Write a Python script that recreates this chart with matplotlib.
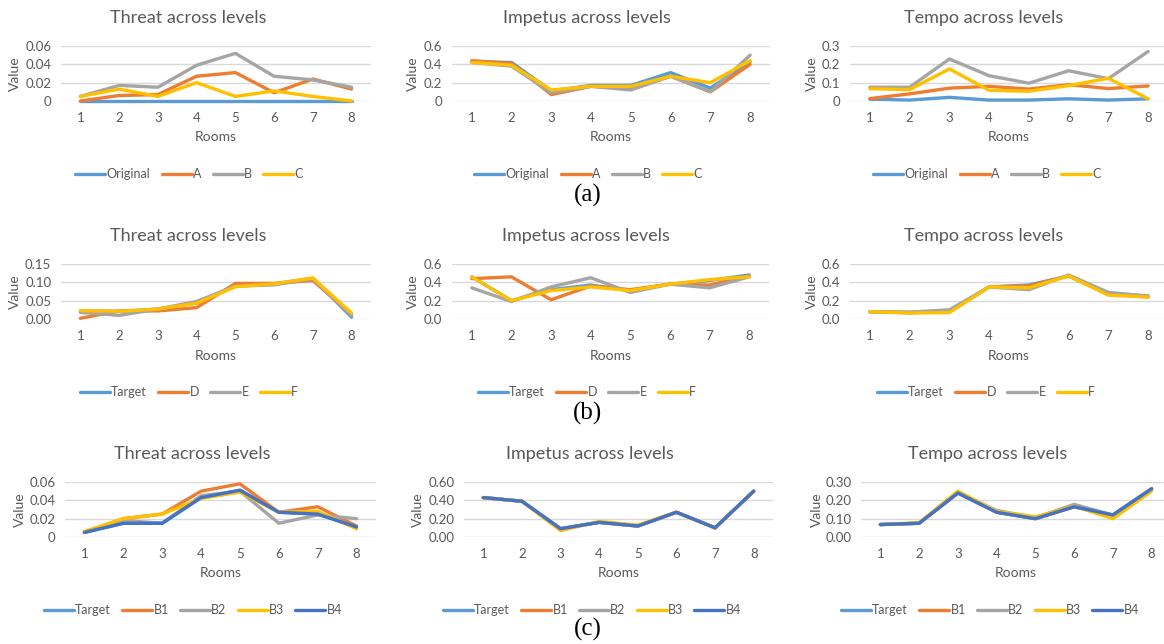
import matplotlib
matplotlib.use("Agg")
import matplotlib.pyplot as plt
from matplotlib.ticker import FixedLocator, FixedFormatter

plt.rcParams['font.family'] = ['Lato', 'DejaVu Sans']

rooms = [1, 2, 3, 4, 5, 6, 7, 8]

# row (a): original level vs variants A, B, C
a_names = ["Original", "A", "B", "C"]
a_threat = [
    [0, 0, 0, 0, 0, 0, 0, 0],
    [0.000, 0.006, 0.007, 0.027, 0.031, 0.009, 0.024, 0.013],
    [0.005, 0.017, 0.015, 0.039, 0.052, 0.027, 0.023, 0.015],
    [0.005, 0.013, 0.005, 0.020, 0.005, 0.011, 0.005, 0.000],
]
a_impetus = [
    [0.43, 0.42, 0.11, 0.17, 0.17, 0.31, 0.14, 0.43],
    [0.44, 0.41, 0.07, 0.16, 0.14, 0.27, 0.10, 0.40],
    [0.42, 0.38, 0.09, 0.16, 0.12, 0.27, 0.10, 0.50],
    [0.42, 0.39, 0.12, 0.16, 0.16, 0.27, 0.20, 0.44],
]
a_tempo = [
    [0.010, 0.005, 0.020, 0.005, 0.005, 0.012, 0.005, 0.012],
    [0.013, 0.039, 0.070, 0.080, 0.065, 0.089, 0.068, 0.082],
    [0.075, 0.075, 0.229, 0.138, 0.097, 0.165, 0.122, 0.270],
    [0.067, 0.062, 0.175, 0.058, 0.053, 0.084, 0.124, 0.012],
]

# row (b): target vs D, E, F
b_names = ["Target", "D", "E", "F"]
b_threat = [
    [0.022, 0.021, 0.027, 0.044, 0.089, 0.096, 0.111, 0.005],
    [0.002, 0.022, 0.022, 0.031, 0.097, 0.097, 0.105, 0.012],
    [0.018, 0.010, 0.027, 0.048, 0.090, 0.093, 0.110, 0.010],
    [0.023, 0.021, 0.027, 0.043, 0.088, 0.096, 0.112, 0.016],
]
b_impetus = [
    [0.46, 0.20, 0.32, 0.37, 0.31, 0.38, 0.42, 0.48],
    [0.44, 0.46, 0.21, 0.36, 0.32, 0.38, 0.37, 0.47],
    [0.34, 0.19, 0.35, 0.45, 0.29, 0.38, 0.34, 0.46],
    [0.46, 0.20, 0.31, 0.35, 0.31, 0.38, 0.43, 0.46],
]
b_tempo = [
    [0.08, 0.07, 0.08, 0.35, 0.37, 0.47, 0.28, 0.25],
    [0.08, 0.07, 0.08, 0.35, 0.36, 0.47, 0.27, 0.24],
    [0.075, 0.075, 0.10, 0.35, 0.32, 0.48, 0.29, 0.25],
    [0.08, 0.065, 0.07, 0.35, 0.34, 0.47, 0.26, 0.24],
]

# row (c): target vs B1..B4
c_names = ["Target", "B1", "B2", "B3", "B4"]
c_threat = [
    [0.005, 0.015, 0.015, 0.043, 0.051, 0.027, 0.025, 0.011],
    [0.005, 0.020, 0.025, 0.050, 0.058, 0.027, 0.033, 0.012],
    [0.005, 0.018, 0.015, 0.045, 0.050, 0.015, 0.024, 0.020],
    [0.006, 0.020, 0.025, 0.042, 0.049, 0.027, 0.028, 0.009],
    [0.005, 0.015, 0.015, 0.043, 0.051, 0.027, 0.025, 0.011],
]
c_impetus = [
    [0.43, 0.39, 0.09, 0.16, 0.12, 0.27, 0.10, 0.50],
    [0.43, 0.39, 0.09, 0.16, 0.12, 0.27, 0.10, 0.50],
    [0.43, 0.39, 0.09, 0.16, 0.12, 0.27, 0.10, 0.50],
    [0.43, 0.39, 0.07, 0.17, 0.13, 0.27, 0.10, 0.50],
    [0.43, 0.39, 0.09, 0.16, 0.12, 0.27, 0.10, 0.50],
]
c_tempo = [
    [0.068, 0.075, 0.240, 0.135, 0.100, 0.165, 0.120, 0.263],
    [0.068, 0.075, 0.240, 0.135, 0.100, 0.165, 0.120, 0.263],
    [0.068, 0.075, 0.240, 0.145, 0.105, 0.178, 0.120, 0.263],
    [0.068, 0.078, 0.250, 0.140, 0.110, 0.168, 0.100, 0.250],
    [0.068, 0.075, 0.240, 0.135, 0.100, 0.165, 0.120, 0.263],
]

colors = ["#5B9BD5", "#ED7D31", "#A5A5A5", "#FFC000", "#4472C4"]
txt = "#595959"
grid = "#D9D9D9"

W, H = 1164, 644
fig = plt.figure(figsize=(W / 100, H / 100), dpi=100)


def px(x, y):
    return x / W, 1 - y / H


# each panel: data, names, title, ticks, tick labels, plot box (left, right, top, bottom px),
# title x, legend x, "Value" x, title y, legend y, rooms y
panels = [
    (a_threat, a_names, "Threat across levels", [0, 0.02, 0.04, 0.06], ["0", "0.02", "0.04", "0.06"],
     (61, 371, 46, 101), 188, 189, 15, 18, 174, 137),
    (a_impetus, a_names, "Impetus across levels", [0, 0.2, 0.4, 0.6], ["0", "0.2", "0.4", "0.6"],
     (452, 770, 46, 101), 587, 588, 413, 18, 174, 137),
    (a_tempo, a_names, "Tempo across levels", [0, 0.1, 0.2, 0.3], ["0", "0.1", "0.2", "0.3"],
     (850, 1168, 46, 101), 984, 987, 812, 18, 174, 137),
    (b_threat, b_names, "Threat across levels", [0, 0.05, 0.10, 0.15], ["0.00", "0.05", "0.10", "0.15"],
     (61, 371, 264, 319), 188, 189, 15, 236, 392, 356),
    (b_impetus, b_names, "Impetus across levels", [0, 0.2, 0.4, 0.6], ["0.0", "0.2", "0.4", "0.6"],
     (452, 769, 264, 319), 586, 587, 413, 236, 392, 356),
    (b_tempo, b_names, "Tempo across levels", [0, 0.2, 0.4, 0.6], ["0.0", "0.2", "0.4", "0.6"],
     (850, 1168, 264, 319), 984, 986, 812, 236, 392, 356),
    (c_threat, c_names, "Threat across levels", [0, 0.02, 0.04, 0.06], ["0", "0.02", "0.04", "0.06"],
     (65, 376, 482, 537), 192, 193, 20, 454, 610, 573),
    (c_impetus, c_names, "Impetus across levels", [0, 0.2, 0.4, 0.6], ["0.00", "0.20", "0.40", "0.60"],
     (464, 773, 482, 537), 590, 592, 418, 454, 610, 573),
    (c_tempo, c_names, "Tempo across levels", [0, 0.1, 0.2, 0.3], ["0.00", "0.10", "0.20", "0.30"],
     (861, 1171, 482, 537), 988, 990, 817, 454, 610, 573),
]

for data, names, title, yt, ytl, box, tx, lx, vx, ty, ly, ry in panels:
    l, r, t, b = box
    ax = fig.add_axes([l / W, 1 - b / H, (r - l) / W, (b - t) / H])
    handles = []
    for i, series in enumerate(data):
        h, = ax.plot(rooms, series, color=colors[i], lw=2.4, solid_capstyle="round",
                     solid_joinstyle="round", label=names[i], clip_on=False)
        handles.append(h)
    ax.set_xlim(0.5, 8.5)
    ax.set_ylim(yt[0], yt[-1])
    ax.yaxis.set_major_locator(FixedLocator(yt))
    ax.yaxis.set_major_formatter(FixedFormatter(ytl))
    ax.set_xticks(rooms)
    ax.grid(axis="y", color=grid, lw=1)
    ax.set_axisbelow(True)
    for s in ax.spines.values():
        s.set_visible(False)
    ax.tick_params(length=0, labelsize=9.5, colors=txt)
    ax.tick_params(axis="x", pad=8)
    ax.tick_params(axis="y", pad=7)
    ax.patch.set_alpha(0)

    fig.text(*px(tx, ty), title, ha="center", va="center", fontsize=13, color=txt)
    fig.text(*px((l + r) / 2, ry), "Rooms", ha="center", va="center", fontsize=10, color=txt)
    fig.text(*px(vx, (t + b) / 2), "Value", ha="center", va="center", rotation=90,
             fontsize=10, color=txt)
    leg = fig.legend(handles=handles, loc="center", bbox_to_anchor=px(lx, ly), ncol=len(names),
                     frameon=False, fontsize=9, handlelength=2.4, handletextpad=0.1,
                     columnspacing=0.9)
    for tt in leg.get_texts():
        tt.set_color(txt)

for cap, cy in [("(a)", 195), ("(b)", 413), ("(c)", 629)]:
    fig.text(*px(588, cy), cap, ha="center", va="center", fontsize=18,
             family="Liberation Serif", color="black")

fig.savefig("out.png", dpi=100)
